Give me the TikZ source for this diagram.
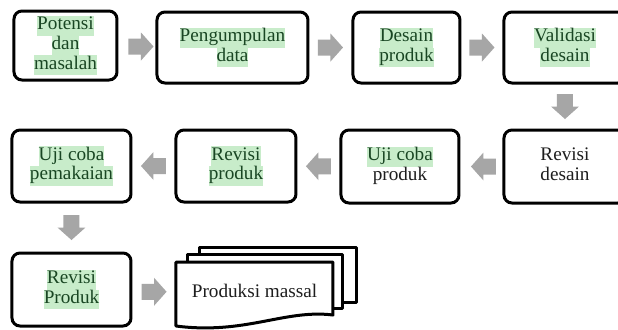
\documentclass[tikz,border=0pt]{standalone}
\usepackage{fontspec}
\setmainfont{Liberation Serif}
\usetikzlibrary{calc}
\definecolor{hlg}{RGB}{200,236,202}
\definecolor{txg}{RGB}{25,70,35}
\definecolor{arrg}{RGB}{166,166,166}
\definecolor{txk}{RGB}{30,30,30}
\newcommand\hlline[1]{{\setlength{\fboxsep}{0pt}\colorbox{hlg}{\strut\textcolor{txg}{#1}}}}
\newcommand\plline[1]{{\strut\textcolor{txk}{#1}}}
% block arrows centred on a point
\newcommand\arrR[1]{\fill[arrg, shift={#1}] (-12.5,-8) -- (0,-8) -- (0,-14) -- (12.5,0) -- (0,14) -- (0,8) -- (-12.5,8) -- cycle;}
\newcommand\arrL[1]{\fill[arrg, shift={#1}] (12.5,-8) -- (0,-8) -- (0,-14) -- (-12.5,0) -- (0,14) -- (0,8) -- (12.5,8) -- cycle;}
\newcommand\arrD[1]{\fill[arrg, shift={#1}] (-8,-12.5) -- (-8,0) -- (-14,0) -- (0,12.5) -- (14,0) -- (8,0) -- (8,-12.5) -- cycle;}
\tikzset{
  stepbox/.style={draw, line width=1.5pt, rounded corners=4pt, align=center, inner sep=0pt,
    font=\fontsize{9.6}{9.8}\selectfont},
  docpage/.style={draw, line width=1.5pt, fill=white, line join=round},
}
\begin{document}
\begin{tikzpicture}[x=0.5pt,y=-0.5pt]
\useasboundingbox[fill=white] (0,0) rectangle (618,329);

% row 1
\node[stepbox, minimum width=51.5pt, minimum height=34.5pt] (A) at (65.5,45.5)
  {\hlline{Potensi}\\\hlline{dan}\\\hlline{masalah}};
\node[stepbox, minimum width=75.5pt, minimum height=35.5pt] (B) at (232.5,47.5)
  {\hlline{Pengumpulan}\\\hlline{data}};
\node[stepbox, minimum width=53.5pt, minimum height=35.5pt] (C) at (406.5,47.5)
  {\hlline{Desain}\\\hlline{produk}};
\node[stepbox, minimum width=61pt, minimum height=35.5pt] (D) at (565,47.5)
  {\hlline{Validasi}\\\hlline{desain}};

% row 2
\node[stepbox, minimum width=61pt, minimum height=36.5pt] (E) at (565,166.5)
  {\plline{Revisi}\\\plline{desain}};
\node[stepbox, minimum width=59pt, minimum height=36.5pt] (F) at (400,166.5)
  {\hlline{Uji coba}\\\plline{produk}};
\node[stepbox, minimum width=60pt, minimum height=36pt] (G) at (236,166)
  {\hlline{Revisi}\\\hlline{produk}};
\node[stepbox, minimum width=59.5pt, minimum height=36pt] (H) at (71.5,166)
  {\hlline{Uji coba}\\\hlline{pemakaian}};

% row 3
\node[stepbox, minimum width=59.5pt, minimum height=36.5pt] (I) at (71.5,289.5)
  {\hlline{Revisi}\\\hlline{Produk}};

% multi-document
\draw[docpage] (200,247) rectangle (357,302);
\draw[docpage] (188,254) rectangle (343,308);
\draw[docpage] (176,262) -- (333,262) -- (333,315)
  .. controls (285,309) and (245,335) .. (176,326) -- cycle;
\node[inner sep=0pt, minimum width=78.5pt, minimum height=20pt,
  font=\fontsize{9.6}{9.8}\selectfont] (J) at (254.5,294) {\plline{Produksi massal}};

% block arrows
\arrR{($(A.east)!0.5!(B.west)+(4,0)$)}
\arrR{($(B.east)!0.5!(C.west)$)}
\arrR{($(C.east)!0.5!(D.west)$)}
\arrD{($(D.south)!0.5!(E.north)$)}
\arrL{($(E.west)!0.5!(F.east)+(2,0)$)}
\arrL{($(F.west)!0.5!(G.east)$)}
\arrL{($(G.west)!0.5!(H.east)$)}
\arrD{($(H.south)!0.5!(I.north)$)}
\arrR{($(I.east)!0.5!(J.west)$)}
\end{tikzpicture}
\end{document}
